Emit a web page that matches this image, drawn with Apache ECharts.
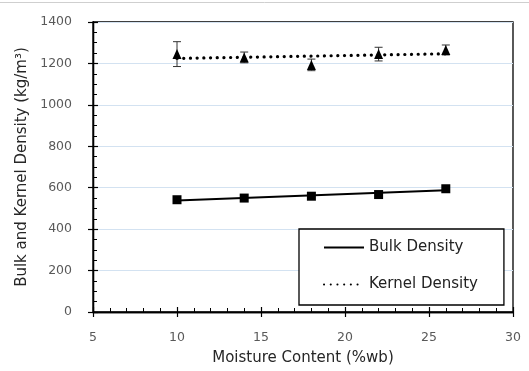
<!DOCTYPE html>
<html>
<head>
<meta charset="utf-8">
<script src="https://cdn.jsdelivr.net/npm/echarts@6/dist/echarts.min.js"></script>
<style>
  html, body { margin: 0; padding: 0; background: #fff; }
  #chart { width: 529px; height: 371px; }
</style>
</head>
<body>
<div id="chart"></div>
<script>
// Moisture content levels (% wet basis)
const moisture = [10, 14, 18, 22, 26];
// Bulk density (kg/m3)
const bulkDensity = [542, 550, 559, 567, 595];
// Kernel density (kg/m3) and its standard deviation
const kernelDensity = [1245, 1229, 1193, 1245, 1265];
const kernelSD = [60, 26, 28, 33, 24];

const yTicks = { min: 0, max: 1400, interval: 200 };
const xTicks = { min: 5, max: 30, interval: 5 };

// Least-squares linear trend across the measured moisture range
function linearTrend(xs, ys) {
  const n = xs.length;
  const mx = xs.reduce((a, b) => a + b, 0) / n;
  const my = ys.reduce((a, b) => a + b, 0) / n;
  let sxy = 0, sxx = 0;
  for (let i = 0; i < n; i++) {
    sxy += (xs[i] - mx) * (ys[i] - my);
    sxx += (xs[i] - mx) * (xs[i] - mx);
  }
  const slope = sxy / sxx;
  const x0 = Math.min(...xs), x1 = Math.max(...xs);
  return [[x0, my + slope * (x0 - mx)], [x1, my + slope * (x1 - mx)]];
}

const pairs = (xs, ys) => xs.map((x, i) => [x, ys[i]]);
const errData = moisture.map((x, i) => [x, kernelDensity[i] - kernelSD[i], kernelDensity[i] + kernelSD[i]]);

const FONT = 'DejaVu Sans';
const chart = echarts.init(document.getElementById('chart'), null, { renderer: 'canvas' });

const baseX = {
  type: 'value', min: xTicks.min, max: xTicks.max, interval: xTicks.interval,
  position: 'bottom', splitLine: { show: false },
  axisLine: { lineStyle: { color: '#000', width: 1.3 } }
};
const baseY = {
  type: 'value', min: yTicks.min, max: yTicks.max, interval: yTicks.interval,
  position: 'left',
  axisLine: { lineStyle: { color: '#000', width: 1.3 } }
};

chart.setOption({
  animation: false,
  backgroundColor: '#fff',
  color: ['#000'],
  graphic: [{
    type: 'line', shape: { x1: 0, y1: 2.5, x2: 529, y2: 2.5 },
    style: { stroke: '#cfcfcf', lineWidth: 1 }, silent: true
  }],
  grid: {
    left: 93, right: 16, top: 22, bottom: 56,
    show: true, borderColor: '#000', borderWidth: 1.3, backgroundColor: 'transparent'
  },
  xAxis: [
    Object.assign({}, baseX, {
      name: 'Moisture Content (%wb)', nameLocation: 'middle', nameGap: 39,
      nameTextStyle: { fontFamily: FONT, fontSize: 15, color: '#262626' },
      axisTick: { show: true, inside: false, length: 5, lineStyle: { color: '#000', width: 1.2 } },
      axisLabel: { fontFamily: FONT, fontSize: 12.5, color: '#595959', margin: 19 }
    }),
    Object.assign({}, baseX, {
      axisTick: { show: true, inside: true, length: 5, lineStyle: { color: '#000', width: 1.2 } },
      minorTick: { show: true, splitNumber: 5, length: 4, lineStyle: { color: '#000', width: 1 } },
      axisLabel: { show: false }
    })
  ],
  yAxis: [
    Object.assign({}, baseY, {
      name: 'Bulk and Kernel Density (kg/m³)', nameLocation: 'middle', nameGap: 62,
      nameTextStyle: { fontFamily: FONT, fontSize: 15, color: '#262626' },
      axisTick: { show: true, inside: false, length: 5, lineStyle: { color: '#000', width: 1.2 } },
      axisLabel: { fontFamily: FONT, fontSize: 12.5, color: '#595959', margin: 21, formatter: v => String(v) },
      splitLine: { show: true, lineStyle: { color: '#d3e2f1', width: 1 } }
    }),
    Object.assign({}, baseY, {
      axisTick: { show: true, inside: true, length: 5, lineStyle: { color: '#000', width: 1.2 } },
      minorTick: { show: true, splitNumber: 4, length: 4, lineStyle: { color: '#000', width: 1 } },
      axisLabel: { show: false },
      splitLine: { show: false }
    })
  ],
  legend: {
    data: ['Bulk Density', 'Kernel Density'],
    orient: 'vertical', left: 299, top: 229,
    padding: [11, 26, 13, 24],
    itemGap: 22, itemWidth: 40, itemHeight: 14,
    itemStyle: { opacity: 0 },
    backgroundColor: '#fff', borderColor: '#000', borderWidth: 1.3, borderRadius: 0,
    textStyle: { fontFamily: FONT, fontSize: 15, color: '#222' }
  },
  series: [
    {
      name: 'Bulk Density', type: 'line', data: linearTrend(moisture, bulkDensity),
      symbol: 'none', itemStyle: { color: '#000' },
      lineStyle: { color: '#000', width: 2 }, z: 3, silent: true
    },
    {
      name: 'Kernel Density', type: 'line', data: linearTrend(moisture, kernelDensity),
      symbol: 'none', itemStyle: { color: '#000' }, z: 3, silent: true,
      lineStyle: { color: '#000', width: 3.2, type: [0.1, 6.6], cap: 'round' }
    },
    {
      name: 'kernelSD', type: 'custom', data: errData, z: 4, silent: true,
      renderItem: function (params, api) {
        const top = api.coord([api.value(0), api.value(2)]);
        const bot = api.coord([api.value(0), api.value(1)]);
        const cw = 4;
        const st = { stroke: '#333', lineWidth: 1 };
        return {
          type: 'group',
          children: [
            { type: 'line', shape: { x1: top[0], y1: top[1], x2: bot[0], y2: bot[1] }, style: st },
            { type: 'line', shape: { x1: top[0] - cw, y1: top[1], x2: top[0] + cw, y2: top[1] }, style: st },
            { type: 'line', shape: { x1: bot[0] - cw, y1: bot[1], x2: bot[0] + cw, y2: bot[1] }, style: st }
          ]
        };
      }
    },
    {
      name: 'bulkPoints', type: 'scatter', data: pairs(moisture, bulkDensity),
      symbol: 'rect', symbolSize: 9, itemStyle: { color: '#000', opacity: 1 }, z: 5
    },
    {
      name: 'kernelPoints', type: 'scatter', data: pairs(moisture, kernelDensity),
      symbol: 'triangle', symbolSize: [9, 10], itemStyle: { color: '#000', opacity: 1 }, z: 5
    }
  ]
});
</script>
</body>
</html>
